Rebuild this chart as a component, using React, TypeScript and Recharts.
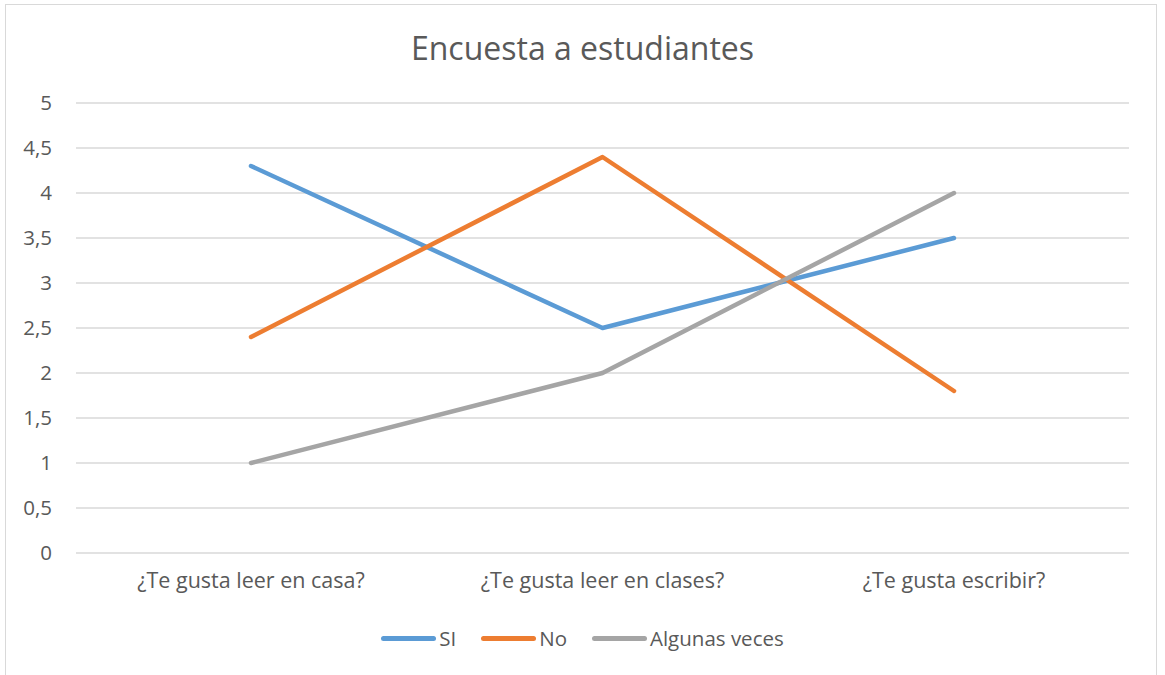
import { CartesianGrid, Legend, Line, LineChart, XAxis, YAxis } from 'recharts';

const preguntas = ['¿Te gusta leer en casa?', '¿Te gusta leer en clases?', '¿Te gusta escribir?'];
const si = [4.3, 2.5, 3.5];
const no = [2.4, 4.4, 1.8];
const algunasVeces = [1, 2, 4];
const yTicks = [0, 0.5, 1, 1.5, 2, 2.5, 3, 3.5, 4, 4.5, 5];

const SERIES = [
  { key: 'si', name: 'SI', color: '#5B9BD5' },
  { key: 'no', name: 'No', color: '#ED7D31' },
  { key: 'algunas', name: 'Algunas veces', color: '#A5A5A5' },
];

const data = preguntas.map((p, i) => ({
  pregunta: p,
  si: si[i],
  no: no[i],
  algunas: algunasVeces[i],
}));

const FONT = '"Open Sans", "Noto Sans", sans-serif';
const TEXT = '#595959';

function LegendBox() {
  return (
    <div
      style={{
        height: 66,
        paddingLeft: 36,
        display: 'flex',
        alignItems: 'center',
        justifyContent: 'center',
        fontFamily: FONT,
        fontSize: 20.5,
        color: TEXT,
      }}
    >
      {SERIES.map((s, i) => (
        <div key={s.key} style={{ display: 'flex', alignItems: 'center', marginLeft: i === 0 ? 0 : 25 }}>
          <span
            style={{
              display: 'inline-block',
              width: 55,
              height: 5,
              borderRadius: 3,
              background: s.color,
              marginRight: 3,
            }}
          />
          <span>{s.name}</span>
        </div>
      ))}
    </div>
  );
}

export default function App() {
  return (
    <div style={{ position: 'absolute', left: 0, top: 0, width: 1165, height: 675, overflow: 'hidden', background: '#fff' }}>
      <div
        style={{
          position: 'absolute',
          left: 5,
          top: 4,
          width: 1152,
          height: 720,
          border: '1px solid #d9d9d9',
          boxSizing: 'border-box',
        }}
      />
      <div
        style={{
          position: 'absolute',
          left: 0,
          top: 26,
          width: 1165,
          textAlign: 'center',
          fontFamily: FONT,
          fontSize: 32,
          color: TEXT,
        }}
      >
        Encuesta a estudiantes
      </div>
      <div style={{ position: 'absolute', left: 0, top: 0 }}>
        <LineChart width={1165} height={675} data={data} margin={{ top: 103, right: 36, left: 0, bottom: 4 }}>
          <CartesianGrid vertical={false} stroke="#d9d9d9" strokeWidth={1.3} />
          <XAxis
            dataKey="pregunta"
            axisLine={false}
            tickLine={false}
            height={52}
            padding={{ left: 175, right: 175 }}
            tick={{ fill: TEXT, fontSize: 21.5, fontFamily: FONT }}
            tickMargin={20}
            tickSize={0}
          />
          <YAxis
            width={76}
            domain={[0, 5]}
            ticks={yTicks}
            axisLine={false}
            tickLine={false}
            tickSize={0}
            tickMargin={24}
            tickFormatter={(v) => String(v).replace('.', ',')}
            tick={{ fill: TEXT, fontSize: 20.5, fontFamily: FONT }}
          />
          <Legend verticalAlign="bottom" content={() => <LegendBox />} />
          {SERIES.map((s) => (
            <Line
              key={s.key}
              dataKey={s.key}
              name={s.name}
              stroke={s.color}
              strokeWidth={4.5}
              strokeLinecap="round"
              strokeLinejoin="round"
              dot={false}
              activeDot={false}
              isAnimationActive={false}
            />
          ))}
        </LineChart>
      </div>
    </div>
  );
}
